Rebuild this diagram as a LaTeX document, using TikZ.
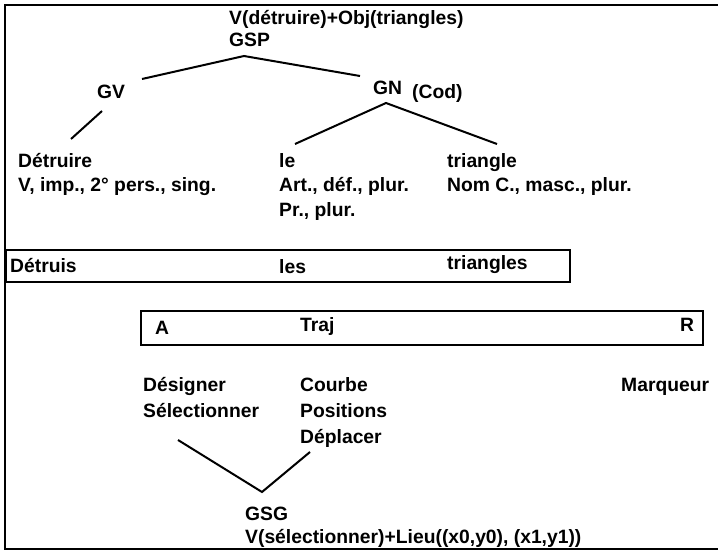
\documentclass[tikz,border=0pt]{standalone}
\usepackage{fontspec}
\setmainfont{Liberation Sans}
\begin{document}
\begin{tikzpicture}[x=1pt,y=-1pt,
  lbl/.style={anchor=base west,inner sep=0pt,font=\fontsize{19.3}{21}\selectfont\bfseries},
  tline/.style={line width=2pt},
  frame/.style={line width=2.2pt}]
\useasboundingbox (0,0) rectangle (718,551);
% outer frame (open on the right)
\draw[frame] (718,5) -- (5,5) -- (5,549) -- (718,549);
% top tree
\node[lbl] (top) at (229,25) {V(détruire)+Obj(triangles)};
\node[lbl] (gsp) at (229,47) {GSP};
\node[lbl] (gv) at (97,99) {GV};
\node[lbl] (gn) at (373,95) {GN};
\node[lbl] (cod) at (412,99) {(Cod)};
\node[lbl] (detruire) at (18,167) {Détruire};
\node[lbl] (detruireb) at (18,191) {V, imp., 2° pers., sing.};
\node[lbl] (le) at (279,167) {le};
\node[lbl] (leb) at (279,191) {Art., déf., plur.};
\node[lbl] (lec) at (279,216) {Pr., plur.};
\node[lbl] (tri) at (447,167) {triangle};
\node[lbl] (trib) at (447,191) {Nom C., masc., plur.};
\coordinate (apex) at (244,56);
\coordinate (gvt) at (142,79);
\coordinate (gnt) at (360,76);
\coordinate (gvb) at (102,111);
\coordinate (detr) at (71,139);
\coordinate (gnb) at (386,103);
\coordinate (lel) at (295,144);
\coordinate (trir) at (497,144);
\draw[tline] (gvt) -- (apex) -- (gnt);
\draw[tline] (gvb) -- (detr);
\draw[tline] (lel) -- (gnb) -- (trir);
% sentence box
\node[draw,line width=2pt,inner sep=0pt,minimum width=564pt,minimum height=32pt,anchor=north west] (box1) at (5,249) {};
\node[lbl] (detruis) at (10,272) {Détruis};
\node[lbl] (les) at (279,273) {les};
\node[lbl] (triangles) at (447,269) {triangles};
% A Traj R box
\node[draw,line width=2pt,inner sep=0pt,minimum width=562pt,minimum height=34pt,anchor=north west] (box2) at (140,310) {};
\node[lbl] (a) at (155,334) {A};
\node[lbl] (traj) at (300,331) {Traj};
\node[lbl] (r) at (680,331) {R};
% lower part
\node[lbl] (des) at (143,391) {Désigner};
\node[lbl] (sel) at (143,417) {Sélectionner};
\node[lbl] (courbe) at (300,391) {Courbe};
\node[lbl] (pos) at (300,417) {Positions};
\node[lbl] (dep) at (300,443) {Déplacer};
\node[lbl] (marq) at (621,391) {Marqueur};
\coordinate (vl) at (178,440);
\coordinate (vb) at (262,492);
\coordinate (vr) at (310,452);
\draw[tline] (vl) -- (vb) -- (vr);
\node[lbl] (gsg) at (245,520) {GSG};
\node[lbl] (gsgb) at (245,543) {V(sélectionner)+Lieu((x0,y0), (x1,y1))};
\end{tikzpicture}
\end{document}
